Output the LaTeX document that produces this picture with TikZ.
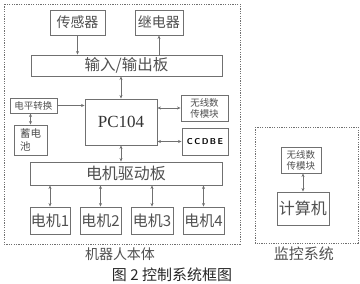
\documentclass[tikz,border=0pt]{standalone}
\usepackage{fontspec}
\setmainfont{Liberation Serif}
\newfontfamily\cjk{Noto Sans CJK SC}
\usetikzlibrary{arrows.meta}
\definecolor{ln}{HTML}{707070}
\definecolor{tx}{HTML}{505050}
\begin{document}
\begin{tikzpicture}[x=1pt,y=-1pt,
  box/.style={draw=ln,line width=0.9pt,fill=white,inner sep=0pt,text=tx,font=\cjk\fontsize{14}{15}\selectfont},
  small/.style={font=\cjk\fontsize{9.5}{11}\selectfont,align=center},
  dbox/.style={draw=ln,line width=0.9pt,dash pattern=on 1.2pt off 1.2pt},
  arr/.style={draw=ln,line width=0.8pt,-{Stealth[length=3.5pt,width=3pt]}},
  darr/.style={draw=ln,line width=0.8pt,{Stealth[length=3.5pt,width=3pt]}-{Stealth[length=3.5pt,width=3pt]}},
  lab/.style={text=tx,inner sep=0pt}]
\useasboundingbox (0,0) rectangle (360,284);
\draw[dbox] (4,4) rectangle (240,244);
\draw[dbox] (255,127) rectangle (358,243);
\node[box,minimum width=55pt,minimum height=25pt] (sens) at (77.5,22.5) {传感器};
\node[box,minimum width=48pt,minimum height=25pt] (relay) at (159,22.5) {继电器};
\node[box,minimum width=191pt,minimum height=21pt,font=\cjk\fontsize{15.5}{16}\selectfont] (io) at (126.5,65.5) {输入/输出板};
\node[box,minimum width=72pt,minimum height=46pt,font=\fontsize{17}{18}\selectfont,text=black!80] (pc) at (121,122) {PC104};
\node[box,small,minimum width=47pt,minimum height=15pt,font=\cjk\fontsize{9.5}{11}\selectfont] (lvl) at (33.5,105.5) {电平转换};
\node[box,minimum width=33pt,minimum height=30pt,align=left,font=\cjk\fontsize{10.5}{13}\selectfont] (bat) at (30.5,140) {蓄电\\池};
\node[box,small,minimum width=47pt,minimum height=26pt] (wl) at (204.5,108) {无线数\\传模块};
\node[box,minimum width=46pt,minimum height=27pt,font=\sffamily\bfseries\fontsize{8.5}{10}\selectfont,text=black] (ccd) at (205,141.5) {C\,C\,D\,B\,E};
\node[box,minimum width=192pt,minimum height=23pt,font=\cjk\fontsize{16}{17}\selectfont] (drv) at (126,173.5) {电机驱动板};
\node[box,minimum width=40pt,minimum height=27pt,font=\cjk\fontsize{15}{16}\selectfont] (m1) at (50,220.5) {电机1};
\node[box,minimum width=41pt,minimum height=27pt,font=\cjk\fontsize{15}{16}\selectfont] (m2) at (100.5,220.5) {电机2};
\node[box,minimum width=42pt,minimum height=27pt,font=\cjk\fontsize{15}{16}\selectfont] (m3) at (152,220.5) {电机3};
\node[box,minimum width=41pt,minimum height=27pt,font=\cjk\fontsize{15}{16}\selectfont] (m4) at (203.5,220.5) {电机4};
\node[box,small,minimum width=40pt,minimum height=26pt] (wl2) at (301,160) {无线数\\传模块};
\node[box,minimum width=52pt,minimum height=33pt,font=\cjk\fontsize{16}{17}\selectfont] (comp) at (303,208.5) {计算机};
\node[lab,font=\cjk\fontsize{14}{15}\selectfont] (body) at (120,254) {机器人本体};
\node[lab,font=\cjk\fontsize{15}{16}\selectfont] (mon) at (304,254) {监控系统};
\node[lab,font=\cjk\fontsize{15}{16}\selectfont,text=black!85] (cap) at (172,275) {图 2 控制系统框图};
\draw[arr] (sens.south) -- (sens.south |- io.north);
\draw[arr] (io.north -| relay.south) -- (relay.south);
\draw[darr] (pc.north) -- (pc.north |- io.south);
\draw[arr] (lvl.east) -- (lvl.east -| pc.west);
\draw[darr] (bat.north) -- (bat.north |- lvl.south);
\draw[darr] (wl.west) -- (wl.west -| pc.east);
\draw[darr] (ccd.west) -- (ccd.west -| pc.east);
\draw[darr] (pc.south) -- (pc.south |- drv.north);
\foreach \m in {m1,m2,m3,m4}{\draw[darr] (\m.north) -- (\m.north |- drv.south);}
\draw[darr] (comp.north) -- (comp.north |- wl2.south);
\end{tikzpicture}
\end{document}
